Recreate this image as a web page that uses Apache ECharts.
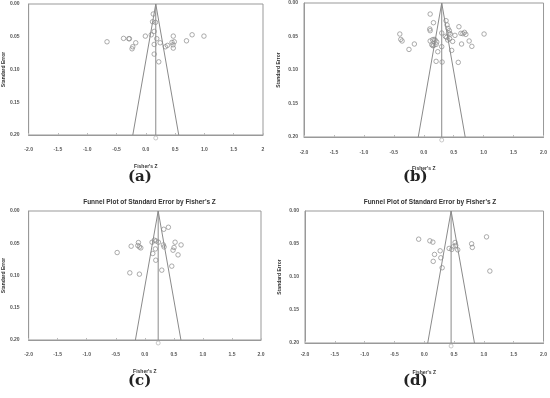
<!DOCTYPE html>
<html><head><meta charset="utf-8">
<script src="https://cdn.jsdelivr.net/npm/echarts@6/dist/echarts.min.js"></script>
<style>html,body{margin:0;padding:0;background:#fff}#c{width:550px;height:398px}</style>
</head><body><div id="c"></div>
<script>
// Tick labels
const xTicksA = ['-2.0','-1.5','-1.0','-0.5','0.0','0.5','1.0','1.5','2'];
const xTicks = ['-2.0','-1.5','-1.0','-0.5','0.0','0.5','1.0','1.5','2.0'];
const yTicks = ['0.00','0.05','0.10','0.15','0.20'];
const panelLabels = ['(a)','(b)','(c)','(d)'];
const panelTitles = ['', '', "Funnel Plot of Standard Error by Fisher's Z", "Funnel Plot of Standard Error by Fisher's Z"];
// pooled Fisher's Z (funnel centre) per panel
const pooled = [0.17, 0.30, 0.23, 0.45];

// Panel (a)
const aZ  = [0.127,0.115,0.165,0.143,0.093,-0.662,-0.38,-0.29,-0.28,-0.172,-0.223,-0.235,-0.008,0.187,0.143,0.245,0.334,0.368,0.469,0.447,0.486,0.464,0.469,0.694,0.79,0.992,0.143,0.221];
const aSE = [0.0153,0.0271,0.028,0.0418,0.047,0.0577,0.0525,0.053,0.053,0.0592,0.0653,0.0684,0.049,0.053,0.0617,0.0592,0.0653,0.0632,0.049,0.0586,0.0577,0.0623,0.0673,0.0562,0.047,0.049,0.0765,0.0883];
// Panel (b)
const bZ  = [0.107,0.162,0.101,0.107,0.372,0.389,0.405,0.427,0.587,-0.4,-0.384,-0.362,-0.157,-0.247,0.146,0.173,0.19,0.107,0.134,0.151,0.168,0.217,0.206,0.3,0.3,0.361,0.383,0.4,0.432,0.422,0.444,0.482,0.521,0.234,0.206,0.306,0.466,0.62,0.654,0.68,0.703,0.631,0.758,0.803,0.576,1.007];
const bSE = [0.0165,0.0294,0.0388,0.0413,0.0264,0.0328,0.0379,0.0413,0.0354,0.0463,0.0543,0.0567,0.0612,0.0693,0.0548,0.0543,0.0552,0.0567,0.0622,0.0637,0.0633,0.0582,0.0618,0.0652,0.0448,0.0498,0.0513,0.0552,0.0533,0.0448,0.0463,0.0573,0.0483,0.0727,0.0871,0.0881,0.0707,0.0453,0.0458,0.0438,0.0468,0.0612,0.0567,0.0647,0.0886,0.0463];
// Panel (c)
const cZ  = [0.326,0.406,-0.476,-0.235,-0.11,-0.12,-0.093,-0.069,0.125,0.165,0.194,0.234,0.32,0.332,0.182,0.137,0.189,0.521,0.624,0.503,0.486,0.572,0.464,0.292,-0.258,-0.093];
const cSE = [0.0283,0.0252,0.0644,0.0546,0.0489,0.0535,0.0557,0.0572,0.0484,0.0453,0.0464,0.0484,0.0526,0.0557,0.0588,0.0659,0.0763,0.0484,0.0526,0.0566,0.0608,0.068,0.0855,0.0917,0.0959,0.0979];
// Panel (d)
const dZ  = [-0.094,0.094,0.144,0.172,0.267,0.15,0.278,0.3,0.417,0.461,0.483,0.517,0.528,0.561,0.794,0.806,1.044,1.1];
const dSE = [0.0427,0.0452,0.0472,0.0658,0.0603,0.0763,0.0709,0.086,0.0567,0.0582,0.0543,0.0477,0.0522,0.0588,0.0497,0.0552,0.0392,0.091];

const zs = [aZ,bZ,cZ,dZ], ses = [aSE,bSE,cSE,dSE];
const grids = [
  {left:26, top:4, width:237, height:131},
  {left:304, top:3, width:242, height:134},
  {left:28, top:211, width:233, height:129},
  {left:305, top:211, width:240, height:132}
];
const yNameGap = [21, 23, 22, 23];
const xNameGap = [29, 29, 29, 27];
const xLabMargin = [12, 13, 12, 9];
const yLabMargin = [9, 6, 9, 6];

const GRAY = '#8a8a8a';
const chart = echarts.init(document.getElementById('c'), null, {renderer:'canvas'});
const option = {
  backgroundColor:'#fff',
  animation:false,
  grid: grids.map(g => Object.assign({show:true, borderColor:'#999', borderWidth:1, containLabel:false}, g)),
  title: [],
  xAxis: [], yAxis: [], series: [], graphic: []
};
grids.forEach((g,i) => {
  const labels = i === 0 ? xTicksA : xTicks;
  option.xAxis.push({
    gridIndex:i, type:'value', min:-2, max:2, interval:0.5, position:'bottom',
    name:"Fisher's Z", nameLocation:'middle', nameGap:xNameGap[i],
    nameTextStyle:{fontSize:5, fontWeight:'bold', color:'#333', fontFamily:'Liberation Sans'},
    axisLine:{show:true, onZero:false, lineStyle:{color:'#999'}},
    axisTick:{show:true, inside:true, length:2, lineStyle:{color:'#bbb'}},
    splitLine:{show:false},
    axisLabel:{fontSize:5, color:'#555', margin:xLabMargin[i], fontWeight:'bold', fontFamily:'Liberation Sans',
      formatter: v => labels[Math.round((v+2)/0.5)]}
  });
  option.yAxis.push({
    gridIndex:i, type:'value', min:0, max:0.2, interval:0.05, inverse:true, position:'left',
    name:'Standard Error', nameLocation:'middle', nameGap:yNameGap[i], nameRotate:90,
    nameTextStyle:{fontSize:5, fontWeight:'bold', color:'#333', fontFamily:'Liberation Sans'},
    axisLine:{show:true, onZero:false, lineStyle:{color:'#999'}},
    axisTick:{show:false},
    splitLine:{show:false},
    axisLabel:{fontSize:5, color:'#555', margin:yLabMargin[i], fontWeight:'bold', fontFamily:'Liberation Sans',
      formatter: v => yTicks[Math.round(v/0.05)]}
  });
  const m = pooled[i];
  // funnel (95% limits) and centre line
  option.series.push({
    type:'line', xAxisIndex:i, yAxisIndex:i, symbol:'none', silent:true,
    lineStyle:{color:GRAY, width:1},
    data:[[m-1.96*0.2,0.2],[m,0],[m+1.96*0.2,0.2]]
  });
  option.series.push({
    type:'line', xAxisIndex:i, yAxisIndex:i, symbol:'none', silent:true,
    lineStyle:{color:GRAY, width:1},
    data:[[m,0],[m,0.2]]
  });
  option.series.push({
    type:'scatter', xAxisIndex:i, yAxisIndex:i, symbol:'circle', symbolSize:4.5,
    itemStyle:{color:'rgba(255,255,255,0)', borderColor:'#8c8c8c', borderWidth:0.9},
    data: zs[i].map((z,k) => [z, ses[i][k]])
  });
  option.series.push({
    type:'scatter', xAxisIndex:i, yAxisIndex:i, symbol:'circle', symbolSize:4, clip:false,
    symbolOffset:[0,3],
    itemStyle:{color:'#fff', borderColor:'#aaa', borderWidth:0.8},
    data:[[m,0.2]]
  });
  if (panelTitles[i]) {
    option.title.push({
      text: panelTitles[i],
      left: g.left + g.width/2, top: g.top - 17, textAlign:'center',
      textStyle:{fontSize:6.5, fontWeight:'bold', color:'#333', fontFamily:'Liberation Sans'}
    });
  }
  const cy = i < 2 ? 179 : 383;
  option.graphic.push({
    type:'text', left: (i % 2 === 0 ? 137 : 412) - 9, top: cy - 9,
    style:{text: panelLabels[i], fontSize:15, fontWeight:'bold', fill:'#222', fontFamily:'DejaVu Serif'}
  });
});
chart.setOption(option);
</script>
</body></html>
